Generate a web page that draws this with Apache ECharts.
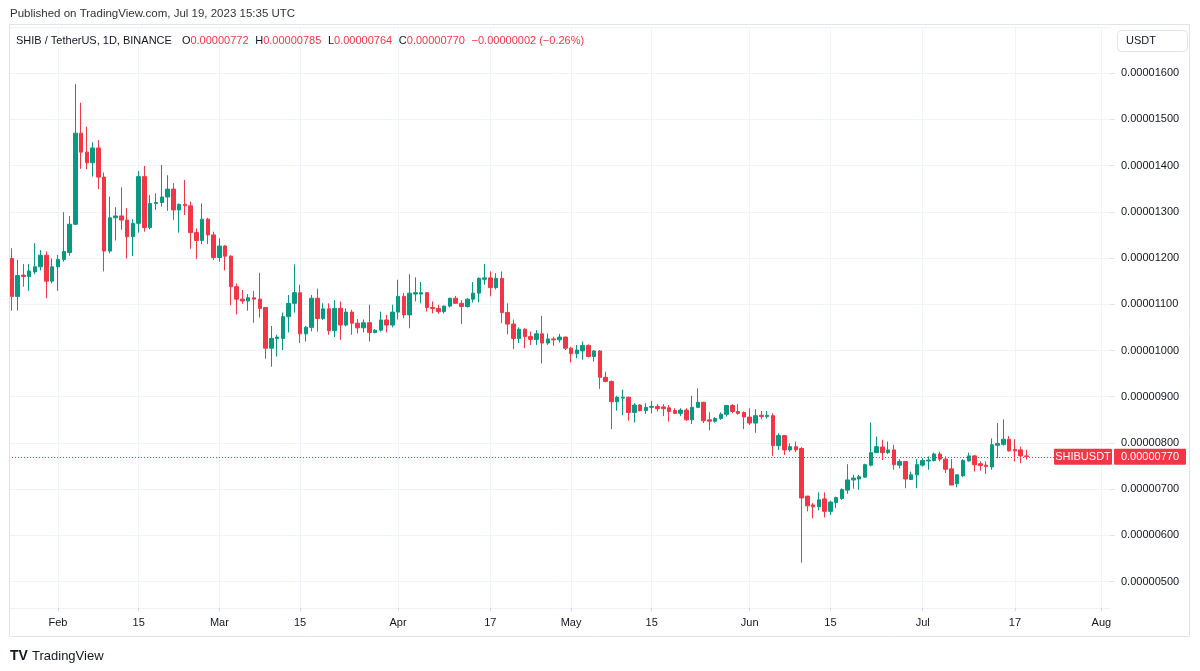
<!DOCTYPE html>
<html><head><meta charset="utf-8">
<script src="https://cdn.jsdelivr.net/npm/echarts@6/dist/echarts.min.js"></script>
<style>html,body{margin:0;padding:0;background:#fff}#c{width:1200px;height:671px}</style>
</head><body><div id="c"></div>
<script>
// Prices in units of 1e-8 USDT (SHIB/USDT daily, 2023-01-24 .. 2023-07-19)
const firstDate = '2023-01-24';
const axisDays = 191; // category slots on the time axis (through early Aug)
const openP  = [1199,1117,1163,1160,1170,1181,1206,1150,1181,1197,1212,1273,1470,1429,1406,1438,1375,1215,1287,1291,1282,1246,1275,1376,1266,1318,1320,1332,1349,1304,1316,1313,1255,1238,1284,1250,1201,1226,1204,1138,1111,1107,1114,1111,1093,1005,1026,1026,1073,1102,1125,1036,1050,1113,1069,1090,1043,1091,1055,1083,1059,1049,1060,1039,1044,1066,1055,1083,1117,1077,1122,1122,1125,1093,1091,1084,1096,1113,1102,1095,1111,1124,1154,1157,1136,1156,1082,1057,1026,1046,1030,1024,1036,1016,1025,1023,1029,1005,993,999,1011,987,999,942,933,889,897,899,866,882,870,877,879,878,876,870,864,871,850,877,888,850,847,853,862,881,868,866,856,843,860,857,859,794,816,785,792,788,685,666,662,679,652,671,680,698,720,722,726,752,779,791,779,785,752,760,721,731,752,761,762,776,765,744,712,729,761,772,755,752,748,795,797,808,786,785,772];
const highP  = [1221,1196,1187,1187,1232,1217,1214,1199,1207,1299,1291,1576,1536,1484,1450,1455,1385,1333,1310,1353,1308,1284,1388,1399,1336,1340,1401,1379,1362,1318,1369,1322,1264,1318,1287,1257,1243,1228,1206,1145,1131,1122,1129,1168,1093,1053,1034,1082,1120,1186,1142,1053,1120,1134,1102,1102,1109,1106,1091,1088,1068,1067,1099,1046,1084,1077,1099,1153,1124,1165,1158,1148,1126,1106,1099,1097,1114,1118,1109,1113,1148,1158,1187,1171,1167,1171,1102,1067,1050,1048,1041,1044,1075,1037,1030,1036,1030,1008,1012,1019,1013,1001,1001,954,935,902,915,900,886,884,886,891,884,884,882,875,875,875,902,918,889,866,856,866,882,884,884,868,875,873,869,869,864,821,817,799,803,791,685,670,693,693,675,684,702,754,731,731,755,844,814,807,803,796,765,760,738,765,767,771,779,781,771,765,733,765,779,774,760,760,810,843,851,815,808,792,785];
const lowP   = [1086,1086,1138,1129,1165,1173,1113,1145,1129,1192,1205,1271,1393,1392,1376,1349,1171,1210,1238,1261,1199,1204,1255,1257,1262,1304,1311,1302,1282,1255,1293,1220,1198,1230,1230,1196,1192,1173,1098,1078,1101,1086,1060,1071,982,965,987,1001,1039,1082,1016,1019,1041,1041,1066,1034,1029,1023,1052,1034,1037,1039,1019,1037,1041,1039,1050,1067,1070,1048,1106,1102,1084,1080,1079,1080,1093,1101,1057,1093,1104,1104,1142,1117,1132,1059,1035,1003,1016,1005,1012,1012,972,1012,1010,1017,1001,974,983,980,985,976,917,931,830,870,860,848,844,868,863,864,868,858,846,863,858,848,841,876,843,827,844,850,857,864,861,830,839,822,851,853,772,785,774,781,780,541,652,637,654,639,644,659,677,690,701,699,725,749,778,763,776,742,745,702,720,702,749,742,760,760,735,709,704,726,760,738,740,733,742,767,794,781,760,756,764];
const closeP = [1117,1162,1160,1172,1181,1206,1150,1181,1197,1214,1273,1470,1429,1406,1438,1375,1215,1287,1291,1282,1246,1275,1376,1266,1318,1320,1332,1349,1304,1316,1313,1255,1238,1284,1250,1201,1226,1204,1138,1111,1107,1114,1111,1091,1005,1026,1029,1073,1102,1125,1036,1050,1113,1069,1090,1043,1091,1055,1083,1059,1049,1060,1039,1044,1066,1055,1083,1117,1077,1124,1125,1125,1093,1091,1084,1096,1113,1102,1095,1111,1124,1156,1157,1136,1156,1082,1057,1026,1046,1030,1024,1036,1016,1025,1023,1029,1005,993,1001,1011,987,999,942,933,889,899,899,866,882,870,877,879,874,874,868,864,871,850,877,888,848,847,853,862,881,868,864,856,843,859,857,860,794,816,785,792,785,681,664,662,677,652,672,682,699,720,724,727,753,779,792,779,785,753,760,722,731,753,762,763,776,765,743,709,731,762,772,753,751,749,796,799,808,783,783,772,770];
const tickDates  = ['2023-02-01','2023-02-15','2023-03-01','2023-03-15','2023-04-01','2023-04-17','2023-05-01','2023-05-15','2023-06-01','2023-06-15','2023-07-01','2023-07-17','2023-08-01'];
const tickLabels = ['Feb','15','Mar','15','Apr','17','May','15','Jun','15','Jul','17','Aug'];
const yTickMin = 500, yTickMax = 1600;
const symbolName = 'SHIBUSDT';
const UNIT = 1e-8;

const dates = [];
{
  const t0 = Date.parse(firstDate + 'T00:00:00Z');
  for (let i = 0; i < axisDays; i++) {
    dates.push(new Date(t0 + i * 86400000).toISOString().slice(0, 10));
  }
}
const ohlc = openP.map((o, i) => [o, closeP[i], lowP[i], highP[i]]);
const fmt = v => (v * UNIT).toFixed(8);
const isTick = (idx, val) => tickDates.indexOf(val) >= 0;

const UP = '#089981', DOWN = '#F23645', TXT = '#131722', GRID = '#F0F3FA';
const FONT = 'Liberation Sans';

const chart = echarts.init(document.getElementById('c'), null, {renderer: 'canvas'});
const lastO = openP[openP.length - 1], lastH = highP[highP.length - 1], lastL = lowP[lowP.length - 1], lastC = closeP[closeP.length - 1], prevC = closeP[closeP.length - 2];

chart.setOption({
  animation: false,
  backgroundColor: '#ffffff',
  textStyle: {fontFamily: FONT},
  grid: {left: 9, right: 90, top: 27.3, bottom: 63, containLabel: false},
  xAxis: {
    type: 'category', data: dates, boundaryGap: true,
    axisLine: {show: false},
    axisTick: {show: true, interval: isTick, alignWithLabel: true, length: 3, lineStyle: {color: '#D1D4DC'}},
    splitLine: {show: true, interval: isTick, alignWithLabel: true, lineStyle: {color: GRID, width: 1}},
    axisLabel: {
      interval: isTick, color: TXT, fontSize: 11, fontFamily: FONT, margin: 9,
      formatter: v => { const k = tickDates.indexOf(v); return k >= 0 ? tickLabels[k] : ''; }
    }
  },
  yAxis: {
    type: 'value', position: 'right', scale: true,
    min: 443, max: 1699, splitNumber: 12,
    axisLine: {show: false},
    axisTick: {show: true, length: 5, lineStyle: {color: '#E0E3EB'}},
    splitLine: {show: true, lineStyle: {color: GRID, width: 1}},
    axisLabel: {
      color: TXT, fontSize: 11, fontFamily: FONT, margin: 11, align: 'left',
      showMinLabel: false, showMaxLabel: false,
      formatter: v => (v >= yTickMin && v <= yTickMax) ? fmt(v) : ''
    }
  },
  series: [{
    type: 'candlestick', data: ohlc, barWidth: 4,
    itemStyle: {color: UP, color0: DOWN, borderColor: UP, borderColor0: DOWN, borderWidth: 1},
    markLine: {
      silent: true, symbol: ['none', 'none'], animation: false,
      lineStyle: {color: DOWN, type: [1, 2], width: 1},
      label: {show: false},
      data: [{yAxis: lastC}]
    }
  }]
});

const py = chart.convertToPixel({yAxisIndex: 0}, lastC);
const chg = lastC - prevC;
const pct = (chg / prevC * 100).toFixed(2);
const neg = s => s.replace('-', '\u2212');
const F11 = '11px "Liberation Sans"';

chart.setOption({
  graphic: [
    {type: 'text', x: 10, y: 14, style: {text: 'Published on TradingView.com, Jul 19, 2023 15:35 UTC', fill: '#333', font: '11.5px "Liberation Sans"', verticalAlign: 'middle'}},
    {type: 'rect', shape: {x: 9.5, y: 24.5, width: 1180, height: 612}, style: {fill: 'none', stroke: '#E0E3EB', lineWidth: 1}, z: 100},
    {type: 'text', x: 16, y: 41, z: 101, style: {
      text: '{k|SHIB / TetherUS, 1D, BINANCE}   {k|O}{v|' + fmt(lastO) + '}  {k|H}{v|' + fmt(lastH) + '}  {k|L}{v|' + fmt(lastL) + '}  {k|C}{v|' + fmt(lastC) + '}  {v|' + neg((chg < 0 ? '-' : '+') + fmt(Math.abs(chg))) + ' (' + neg(pct) + '%)}',
      verticalAlign: 'middle',
      rich: {k: {fill: TXT, font: F11}, v: {fill: DOWN, font: F11}}
    }},
    {type: 'rect', shape: {x: 1117.5, y: 30.5, width: 70, height: 21, r: 4}, style: {fill: '#fff', stroke: '#E0E3EB', lineWidth: 1}, z: 101},
    {type: 'text', x: 1126, y: 41, z: 102, style: {text: 'USDT', fill: TXT, font: F11, verticalAlign: 'middle'}},
    {type: 'rect', shape: {x: 1054, y: py - 8, width: 58, height: 16, r: 1}, style: {fill: DOWN}, z: 101},
    {type: 'text', x: 1083, y: py, z: 102, style: {text: symbolName, fill: '#fff', font: F11, align: 'center', verticalAlign: 'middle'}},
    {type: 'rect', shape: {x: 1114, y: py - 8, width: 72, height: 16, r: 1}, style: {fill: DOWN}, z: 101},
    {type: 'text', x: 1150, y: py, z: 102, style: {text: fmt(lastC), fill: '#fff', font: F11, align: 'center', verticalAlign: 'middle'}},
    {type: 'text', x: 10, y: 656, style: {text: 'TV', fill: TXT, font: 'bold 14px "Liberation Sans"', verticalAlign: 'middle'}},
    {type: 'text', x: 32, y: 656, style: {text: 'TradingView', fill: TXT, font: '13px "Liberation Sans"', verticalAlign: 'middle'}}
  ]
});
</script></body></html>
